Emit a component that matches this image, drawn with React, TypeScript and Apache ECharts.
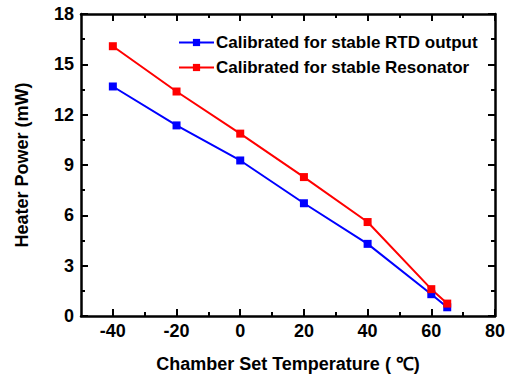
import React, { useEffect, useRef } from "react";
import * as echarts from "echarts";

const temps = [-40, -20, 0, 20, 40, 60, 65];
const rtdPower = [13.68, 11.36, 9.27, 6.72, 4.3, 1.3, 0.52];
const resonatorPower = [16.08, 13.38, 10.87, 8.28, 5.6, 1.6, 0.74];
const xMajorTicks = [-40, -20, 0, 20, 40, 60, 80];
const xMinorTicks = [-30, -10, 10, 30, 50, 70];
const seriesNames = ["Calibrated for stable RTD output", "Calibrated for stable Resonator"];

const FONT = "'Liberation Sans', Arial, sans-serif";

export default function App() {
  const ref = useRef<HTMLDivElement>(null);
  useEffect(() => {
    if (!ref.current) return;
    const chart = echarts.init(ref.current, undefined, { renderer: "svg" });
    const AW = 2.5;
    const lineAxis = { show: true, onZero: false, lineStyle: { color: "#000", width: AW } };
    const hiddenLine = { show: false, onZero: false };
    const baseX = { type: "value", min: -50, max: 80, splitLine: { show: false } };
    const majorTick = { inside: true, length: 7, lineStyle: { color: "#000", width: 2 } };
    const minorTickStyle = { inside: true, length: 4, lineStyle: { color: "#000", width: 2 } };
    chart.setOption({
      animation: false,
      backgroundColor: "#fff",
      textStyle: { fontFamily: FONT },
      grid: { left: 81, right: 15, top: 14, bottom: 63 },
      legend: {
        orient: "vertical",
        left: 173,
        top: 29,
        itemWidth: 35,
        itemHeight: 9,
        itemGap: 8,
        textStyle: { fontFamily: FONT, fontWeight: "bold", fontSize: 17, color: "#000", padding: [0, 0, 0, -3] },
        data: seriesNames,
      },
      xAxis: [
        {
          ...baseX,
          position: "bottom",
          axisLine: lineAxis,
          axisTick: { ...majorTick, customValues: xMajorTicks },
          axisLabel: { customValues: xMajorTicks, fontFamily: FONT, fontWeight: "bold", fontSize: 18, color: "#000", margin: 6 },
          name: "Chamber Set Temperature ( \u2103)",
          nameLocation: "middle",
          nameGap: 39,
          nameTextStyle: { fontFamily: FONT, fontWeight: "bold", fontSize: 18, color: "#000" },
        },
        {
          ...baseX,
          position: "bottom",
          axisLine: hiddenLine,
          axisTick: { ...minorTickStyle, customValues: xMinorTicks },
          axisLabel: { show: false },
        },
        {
          ...baseX,
          position: "top",
          axisLine: lineAxis,
          axisTick: { ...majorTick, customValues: xMajorTicks },
          axisLabel: { show: false },
        },
        {
          ...baseX,
          position: "top",
          axisLine: hiddenLine,
          axisTick: { ...minorTickStyle, customValues: xMinorTicks },
          axisLabel: { show: false },
        },
      ],
      yAxis: [
        {
          type: "value",
          position: "left",
          min: 0,
          max: 18,
          interval: 3,
          splitLine: { show: false },
          axisLine: lineAxis,
          axisTick: majorTick,
          minorTick: { show: true, splitNumber: 2, length: 4, lineStyle: { color: "#000", width: 2 } },
          axisLabel: { fontFamily: FONT, fontWeight: "bold", fontSize: 18, color: "#000", margin: 7 },
          name: "Heater Power (mW)",
          nameLocation: "middle",
          nameGap: 50,
          nameTextStyle: { fontFamily: FONT, fontWeight: "bold", fontSize: 18, color: "#000" },
        },
        {
          type: "value",
          position: "right",
          min: 0,
          max: 18,
          interval: 3,
          splitLine: { show: false },
          axisLine: lineAxis,
          axisTick: majorTick,
          minorTick: { show: true, splitNumber: 2, length: 4, lineStyle: { color: "#000", width: 2 } },
          axisLabel: { show: false },
        },
      ],
      series: [
        {
          name: seriesNames[0],
          type: "line",
          xAxisIndex: 0,
          yAxisIndex: 0,
          data: temps.map((t, i) => [t, rtdPower[i]]),
          symbol: "rect",
          symbolSize: 8,
          color: "#0000ff",
          lineStyle: { color: "#0000ff", width: 2 },
          itemStyle: { color: "#0000ff" },
        },
        {
          name: seriesNames[1],
          type: "line",
          xAxisIndex: 0,
          yAxisIndex: 0,
          data: temps.map((t, i) => [t, resonatorPower[i]]),
          symbol: "rect",
          symbolSize: 8,
          color: "#ff0000",
          lineStyle: { color: "#ff0000", width: 2 },
          itemStyle: { color: "#ff0000" },
        },
      ],
    });
    return () => chart.dispose();
  }, []);
  return <div ref={ref} style={{ width: 510, height: 379, position: "absolute", left: 0, top: 0 }} />;
}
